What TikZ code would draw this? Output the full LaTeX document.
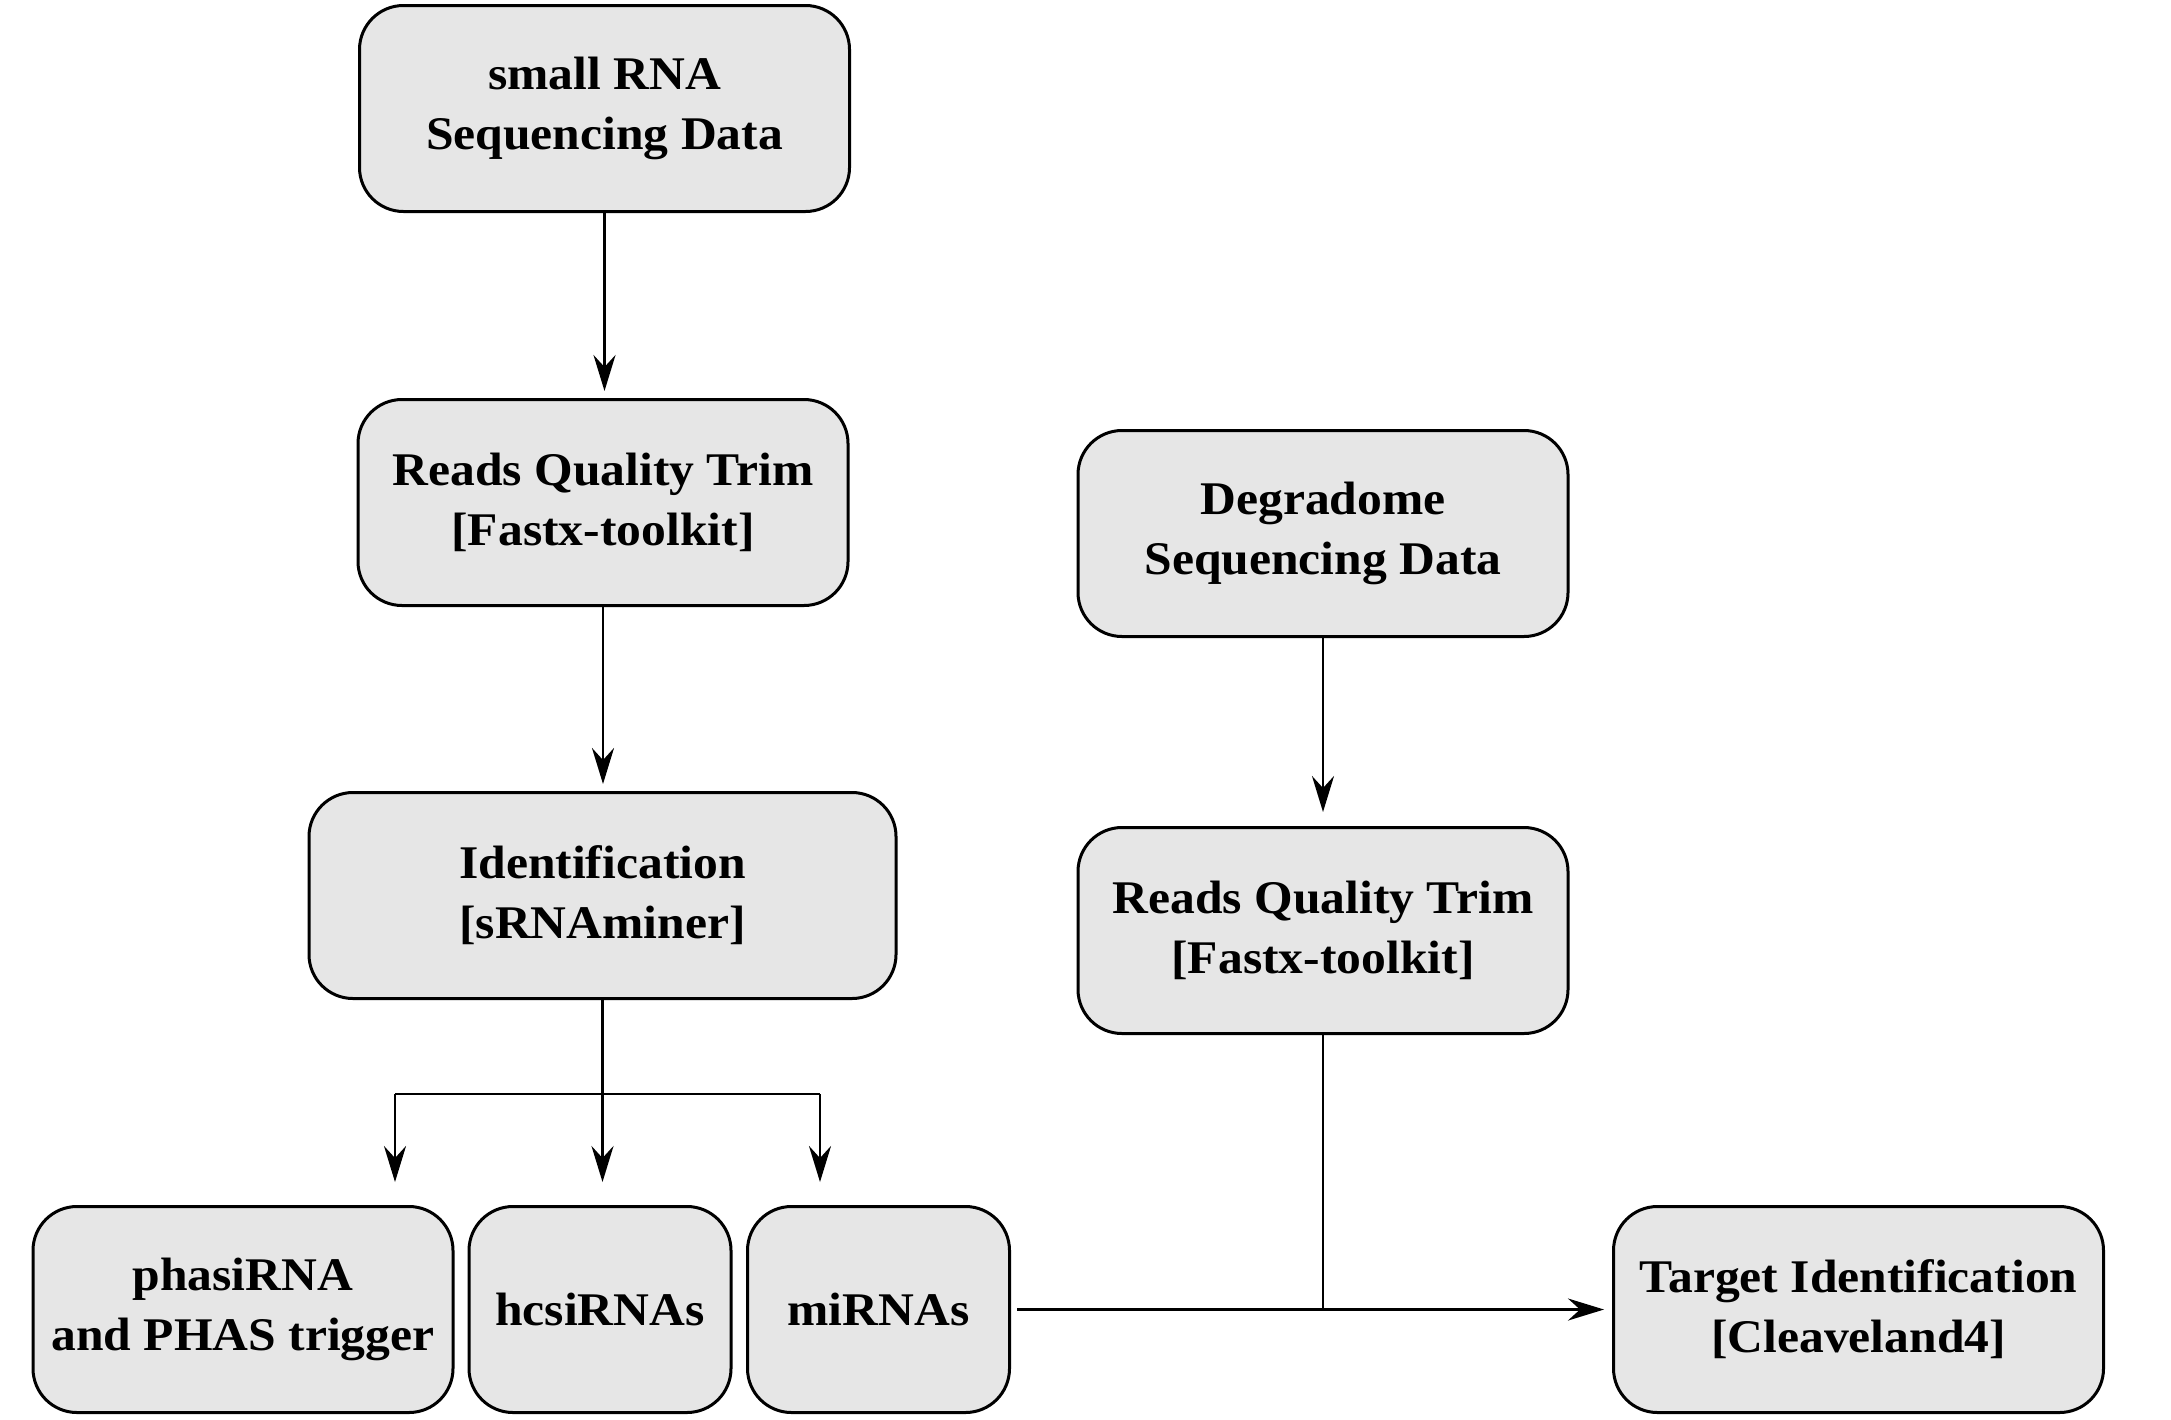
\documentclass[tikz,border=0pt]{standalone}
\usepackage{fontspec}
\setmainfont{Liberation Serif}[FakeStretch=1.06]
\usetikzlibrary{arrows.meta}
\definecolor{boxgray}{HTML}{E6E6E6}
\begin{document}
\begin{tikzpicture}[x=0.5pt,y=-0.5pt,
  box/.style={draw=black, line width=1.5pt, fill=boxgray, rounded corners=22pt,
    inner sep=0pt, align=center, font=\fontsize{23.4pt}{30pt}\selectfont\bfseries},
  bigbox/.style={box, minimum width=245pt, minimum height=103pt},
  smallbox/.style={box, minimum width=131pt, minimum height=103pt},
  conn/.style={line width=1.45pt},
  thin/.style={line width=0.8pt},
  arr/.style={conn, -{Stealth[length=18pt,width=11pt,inset=6pt]}}]
\useasboundingbox (0,0) rectangle (2171,1419);
\node[bigbox] (b1) at (604.5,108.5) {small RNA\\Sequencing Data};
\node[bigbox] (b2) at (603,502.5) {Reads Quality Trim\\{}[Fastx-toolkit]};
\node[box, minimum width=293.5pt, minimum height=103pt] (id) at (602.5,895.5) {Identification\\{}[sRNAminer]};
\node[bigbox] (dg) at (1323,533.5) {Degradome\\Sequencing Data};
\node[bigbox] (r2) at (1323,930.5) {Reads Quality Trim\\{}[Fastx-toolkit]};
\node[box, minimum width=210pt, minimum height=103pt] (ph) at (243,1309.5) {phasiRNA\\and PHAS trigger};
\node[smallbox] (hc) at (600,1309.5) {hcsiRNAs};
\node[smallbox] (mi) at (878.5,1309.5) {miRNAs};
\node[bigbox] (tg) at (1858.5,1309.5) {Target Identification\\{}[Cleaveland4]};
\coordinate (jm) at (602.5,1094);
\coordinate (jl) at (395,1094);
\coordinate (jr) at (820,1094);
\draw[arr, shorten >=3.5pt] (b1.south) -- (b1.south |- b2.north);
\draw[arr, shorten >=3.5pt] (b2.south) -- (b2.south |- id.north);
\draw[conn] (id.south) -- (jm);
\draw[conn] (jl) -- (jr);
\draw[arr, shorten >=11.5pt] (jl) -- (jl |- ph.north);
\draw[arr, shorten >=11.5pt] (jm) -- (jm |- hc.north);
\draw[arr, shorten >=11.5pt] (jr) -- (jr |- mi.north);
\draw[arr, shorten >=7pt] (dg.south) -- (r2.north);
\draw[thin] (r2.south) -- (r2.south |- mi.east);
\draw[arr, shorten <=3pt, shorten >=4pt] (mi.east) -- (tg.west);
\end{tikzpicture}
\end{document}
